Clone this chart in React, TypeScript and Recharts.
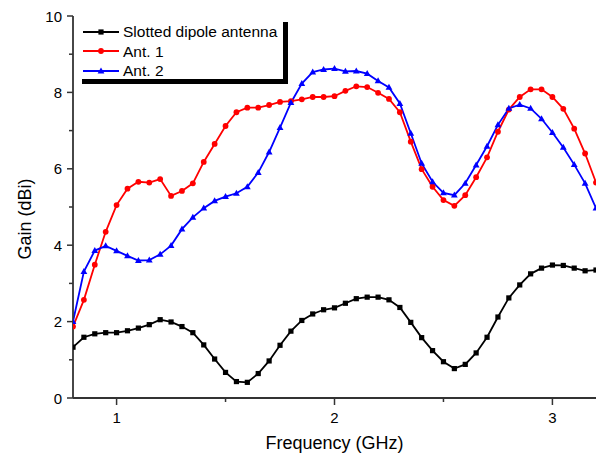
import React from 'react'
import { LineChart, Line, XAxis, YAxis, Legend } from 'recharts'

// frequency samples (GHz)
const freqs = [
  0.8, 0.85, 0.9, 0.95, 1.0, 1.05, 1.1, 1.15, 1.2, 1.25, 1.3, 1.35, 1.4, 1.45, 1.5, 1.55, 1.6,
  1.65, 1.7, 1.75, 1.8, 1.85, 1.9, 1.95, 2.0, 2.05, 2.1, 2.15, 2.2, 2.25, 2.3, 2.35, 2.4, 2.45,
  2.5, 2.55, 2.6, 2.65, 2.7, 2.75, 2.8, 2.85, 2.9, 2.95, 3.0, 3.05, 3.1, 3.15, 3.2,
]

const slottedGain = [
  1.33, 1.59, 1.68, 1.71, 1.71, 1.76, 1.83, 1.92, 2.05, 1.99, 1.87, 1.71, 1.39, 1.02, 0.67, 0.43, 0.41,
  0.64, 0.97, 1.38, 1.75, 2.03, 2.2, 2.31, 2.36, 2.48, 2.6, 2.64, 2.64, 2.57, 2.37, 1.98, 1.58, 1.24,
  0.95, 0.77, 0.88, 1.18, 1.59, 2.12, 2.62, 2.96, 3.25, 3.4, 3.48, 3.47, 3.4, 3.33, 3.35,
]

const ant1Gain = [
  1.87, 2.57, 3.49, 4.35, 5.05, 5.48, 5.66, 5.64, 5.73, 5.29, 5.42, 5.62, 6.18, 6.65, 7.12, 7.48, 7.6,
  7.6, 7.67, 7.75, 7.77, 7.82, 7.88, 7.88, 7.9, 8.04, 8.16, 8.14, 7.99, 7.83, 7.48, 6.71, 5.99, 5.53,
  5.18, 5.03, 5.31, 5.78, 6.3, 6.97, 7.55, 7.88, 8.08, 8.08, 7.88, 7.57, 7.05, 6.4, 5.64,
]

const ant2Gain = [
  2.0, 3.31, 3.86, 3.98, 3.85, 3.72, 3.6, 3.61, 3.76, 3.99, 4.42, 4.73, 4.97, 5.16, 5.27, 5.36, 5.53,
  5.9, 6.44, 7.08, 7.73, 8.23, 8.53, 8.6, 8.62, 8.55, 8.56, 8.49, 8.3, 8.13, 7.71, 6.93, 6.14, 5.66,
  5.37, 5.31, 5.62, 6.1, 6.59, 7.15, 7.58, 7.68, 7.58, 7.31, 6.95, 6.56, 6.11, 5.62, 4.97,
]

const xTicks = [1, 1.5, 2, 2.5, 3]
const xMajor = [1, 2, 3]
const yTicks = [0, 1, 2, 3, 4, 5, 6, 7, 8, 9, 10]

const data = freqs.map((f, i) => ({
  f,
  slotted: slottedGain[i],
  ant1: ant1Gain[i],
  ant2: ant2Gain[i],
}))

const FONT = '"Liberation Sans", Arial, sans-serif'
const AXIS = '#333'

const Square = ({ cx, cy, color }: any) => (
  <rect x={cx - 2.6} y={cy - 2.6} width={5.2} height={5.2} fill={color} />
)
const Circle = ({ cx, cy, color }: any) => <circle cx={cx} cy={cy} r={2.9} fill={color} />
const Triangle = ({ cx, cy, color }: any) => (
  <path d={`M${cx},${cy - 3.6} L${cx + 3.4},${cy + 2.4} L${cx - 3.4},${cy + 2.4} Z`} fill={color} />
)

const series = [
  { key: 'slotted', name: 'Slotted dipole antenna', color: '#000000', Marker: Square },
  { key: 'ant1', name: 'Ant. 1', color: '#ff0000', Marker: Circle },
  { key: 'ant2', name: 'Ant. 2', color: '#0000ff', Marker: Triangle },
]

const YTick = ({ x, y, payload }: any) => {
  const major = payload.value % 2 === 0
  return (
    <g>
      <line x1={x} x2={x - (major ? 6 : 4)} y1={y} y2={y} stroke={AXIS} strokeWidth={1.5} />
      {major && (
        <text x={x - 11} y={y} textAnchor="end" dominantBaseline="central" fontSize={15} fontFamily={FONT} fill="#000">
          {payload.value}
        </text>
      )}
    </g>
  )
}

const XTick = ({ x, y, payload }: any) => {
  const major = xMajor.includes(payload.value)
  return (
    <g>
      <line x1={x} x2={x} y1={y} y2={y + (major ? 7 : 4)} stroke={AXIS} strokeWidth={1.5} />
      {major && (
        <text x={x} y={y + 19} textAnchor="middle" dominantBaseline="central" fontSize={15} fontFamily={FONT} fill="#000">
          {payload.value}
        </text>
      )}
    </g>
  )
}

// title placed a bit below the plot's middle, as in the original
const YTitle = () => (
  <text x={25} y={219} transform="rotate(-90 25 219)" textAnchor="middle" dominantBaseline="central" fontSize={18} fontFamily={FONT} fill="#000">
    Gain (dBi)
  </text>
)

const XTitle = ({ viewBox }: any) => (
  <text x={viewBox.x + viewBox.width / 2} y={viewBox.y + 45} textAnchor="middle" dominantBaseline="central" fontSize={18} fontFamily={FONT} fill="#000">
    Frequency (GHz)
  </text>
)

const LegendBox = () => (
  <div
    style={{
      width: 201,
      height: 57,
      borderRight: '5px solid #000',
      borderBottom: '5px solid #000',
      fontFamily: FONT,
      fontSize: 15.5,
      color: '#000',
    }}
  >
    {series.map((s) => (
      <div key={s.key} style={{ display: 'flex', alignItems: 'center', height: 19.5 }}>
        <svg width={41} height={12} style={{ display: 'block' }}>
          <line x1={1} x2={37} y1={6} y2={6} stroke={s.color} strokeWidth={1.8} />
          <s.Marker cx={19} cy={6} color={s.color} />
        </svg>
        <span style={{ lineHeight: '19.5px' }}>{s.name}</span>
      </div>
    ))}
  </div>
)

export default function App() {
  return (
    <div style={{ position: 'absolute', left: 0, top: 0, background: '#fff' }}>
      <LineChart width={602} height={461} data={data} margin={{ top: 16, right: 6, bottom: 0, left: 0 }}>
        <XAxis
          dataKey="f"
          type="number"
          domain={[0.8, 3.2]}
          ticks={xTicks}
          height={63}
          tickSize={0}
          tickMargin={0}
          tickLine={false}
          tick={<XTick />}
          axisLine={{ stroke: AXIS, strokeWidth: 1.8 }}
          allowDataOverflow
          label={<XTitle />}
        />
        <XAxis
          xAxisId="top"
          orientation="top"
          dataKey="f"
          type="number"
          domain={[0.8, 3.2]}
          height={0}
          tick={false}
          tickLine={false}
          axisLine={{ stroke: AXIS, strokeWidth: 1.8 }}
        />
        <YAxis
          type="number"
          domain={[0, 10]}
          ticks={yTicks}
          width={73}
          tickSize={0}
          tickMargin={0}
          tickLine={false}
          tick={<YTick />}
          axisLine={{ stroke: AXIS, strokeWidth: 1.8 }}
          interval={0}
          label={<YTitle />}
        />
        <YAxis
          yAxisId="right"
          orientation="right"
          type="number"
          domain={[0, 10]}
          width={0}
          tick={false}
          tickLine={false}
          axisLine={{ stroke: AXIS, strokeWidth: 1.8 }}
        />
        <Legend
          layout="horizontal"
          verticalAlign="middle"
          align="center"
          content={<LegendBox />}
          wrapperStyle={{ position: 'absolute', left: 82, top: 22, width: 'auto', height: 'auto' }}
        />
        {series.map((s) => (
          <Line
            key={s.key}
            dataKey={s.key}
            name={s.name}
            stroke={s.color}
            strokeWidth={1.8}
            type="linear"
            dot={(p: any) => <s.Marker key={`${s.key}-${p.index}`} cx={p.cx} cy={p.cy} color={s.color} />}
            activeDot={false}
            isAnimationActive={false}
          />
        ))}
      </LineChart>
    </div>
  )
}
